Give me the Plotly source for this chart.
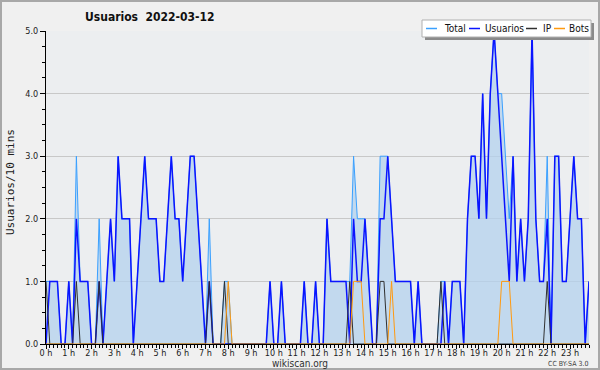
import plotly.graph_objects as go

# ---------------- data (10-minute slots, 2022-03-12) ----------------
hour_labels = ["0 h", "1 h", "2 h", "3 h", "4 h", "5 h", "6 h", "7 h", "8 h", "9 h",
               "10 h", "11 h", "12 h", "13 h", "14 h", "15 h", "16 h", "17 h", "18 h",
               "19 h", "20 h", "21 h", "22 h", "23 h"]

total = [1, 1, 1, 1, 0, 0, 1, 0, 3, 1, 1, 1,
         0, 0, 2, 0, 1, 2, 1, 3, 2, 2, 2, 0,
         1, 2, 3, 2, 2, 2, 1, 1, 2, 3, 2, 2,
         1, 2, 3, 3, 2, 1, 0, 2, 0, 0, 0, 1,
         1, 0, 0, 0, 0, 0, 0, 0, 0, 0, 0, 1,
         0, 0, 1, 0, 0, 0, 0, 0, 1, 0, 0, 1,
         0, 0, 2, 1, 1, 1, 1, 1, 1, 3, 2, 2,
         2, 1, 0, 0, 3, 3, 3, 2, 1, 1, 1, 1,
         1, 0, 1, 0, 0, 0, 0, 0, 1, 1, 0, 1,
         1, 1, 0, 2, 3, 3, 2, 4, 2, 4, 5, 4,
         4, 3, 2, 3, 1, 2, 1, 2, 5, 2, 1, 1,
         3, 0, 3, 3, 1, 1, 2, 3, 2, 2, 0, 1]

usuarios = [0, 1, 1, 1, 0, 0, 1, 0, 2, 1, 1, 1,
            0, 0, 1, 0, 1, 2, 1, 3, 2, 2, 2, 0,
            1, 2, 3, 2, 2, 2, 1, 1, 2, 3, 2, 2,
            1, 2, 3, 3, 2, 1, 0, 1, 0, 0, 0, 0,
            0, 0, 0, 0, 0, 0, 0, 0, 0, 0, 0, 1,
            0, 0, 1, 0, 0, 0, 0, 0, 1, 0, 0, 1,
            0, 0, 2, 1, 1, 1, 1, 1, 0, 2, 1, 1,
            2, 1, 0, 0, 2, 2, 3, 2, 1, 1, 1, 1,
            1, 0, 1, 0, 0, 0, 0, 0, 0, 1, 0, 1,
            1, 1, 0, 2, 3, 3, 2, 4, 2, 4, 5, 4,
            3, 2, 1, 3, 1, 2, 1, 2, 5, 2, 1, 1,
            2, 0, 3, 3, 1, 1, 2, 3, 2, 2, 0, 1]

ip = [1, 0, 0, 0, 0, 0, 0, 0, 1, 0, 0, 0,
      0, 0, 1, 0, 0, 0, 0, 0, 0, 0, 0, 0,
      0, 0, 0, 0, 0, 0, 0, 0, 0, 0, 0, 0,
      0, 0, 0, 0, 0, 0, 0, 1, 0, 0, 0, 1,
      0, 0, 0, 0, 0, 0, 0, 0, 0, 0, 0, 0,
      0, 0, 0, 0, 0, 0, 0, 0, 0, 0, 0, 0,
      0, 0, 0, 0, 0, 0, 0, 0, 1, 0, 0, 0,
      0, 0, 0, 0, 1, 1, 0, 0, 0, 0, 0, 0,
      0, 0, 0, 0, 0, 0, 0, 0, 1, 0, 0, 0,
      0, 0, 0, 0, 0, 0, 0, 0, 0, 0, 0, 0,
      0, 0, 0, 0, 0, 0, 0, 0, 0, 0, 0, 0,
      1, 0, 0, 0, 0, 0, 0, 0, 0, 0, 0, 0]

bots = [0, 0, 0, 0, 0, 0, 0, 0, 0, 0, 0, 0,
        0, 0, 0, 0, 0, 0, 0, 0, 0, 0, 0, 0,
        0, 0, 0, 0, 0, 0, 0, 0, 0, 0, 0, 0,
        0, 0, 0, 0, 0, 0, 0, 0, 0, 0, 0, 0,
        1, 0, 0, 0, 0, 0, 0, 0, 0, 0, 0, 0,
        0, 0, 0, 0, 0, 0, 0, 0, 0, 0, 0, 0,
        0, 0, 0, 0, 0, 0, 0, 0, 0, 1, 1, 1,
        0, 0, 0, 0, 0, 0, 0, 1, 0, 0, 0, 0,
        0, 0, 0, 0, 0, 0, 0, 0, 0, 0, 0, 0,
        0, 0, 0, 0, 0, 0, 0, 0, 0, 0, 0, 0,
        1, 1, 1, 0, 0, 0, 0, 0, 0, 0, 0, 0,
        0, 0, 0, 0, 0, 0, 0, 0, 0, 0, 0, 0]

series_names = ["Total", "Usuarios", "IP", "Bots"]
series_colors = ["#3aa0ff", "#0a14ff", "#303030", "#ff9a10"]

slots = list(range(len(total)))
hour_ticks = [h * 6 for h in range(len(hour_labels))]

FONT = "DejaVu Sans Condensed, Liberation Sans Narrow, DejaVu Sans, sans-serif"

# ---------------- geometry helpers (pixel -> paper) ----------------
W, H = 600, 370
L, R, T, B = 46, 11, 31, 26
PW, PH = W - L - R, H - T - B


def px(x):
    return (x - L) / PW


def py(y):
    return (H - B - y) / PH


fig = go.Figure()
fig.add_trace(go.Scatter(x=slots, y=total, mode="lines", name="Total",
                         line=dict(color=series_colors[0], width=1),
                         fill="tozeroy", fillcolor="rgba(180,210,238,0.75)",
                         showlegend=False))
fig.add_trace(go.Scatter(x=slots, y=usuarios, mode="lines", name="Usuarios",
                         line=dict(color=series_colors[1], width=1.5), showlegend=False))
fig.add_trace(go.Scatter(x=slots, y=ip, mode="lines", name="IP",
                         line=dict(color=series_colors[2], width=1), showlegend=False))
fig.add_trace(go.Scatter(x=slots, y=bots, mode="lines", name="Bots",
                         line=dict(color=series_colors[3], width=1), showlegend=False))

shapes = []
annotations = []

# outer border
shapes.append(dict(type="rect", xref="paper", yref="paper",
                   x0=px(1), x1=px(599), y0=py(369), y1=py(1),
                   line=dict(color="#a8a8a8", width=2), fillcolor="rgba(0,0,0,0)",
                   layer="below"))

# legend box with shadow
shapes.append(dict(type="rect", xref="paper", yref="paper",
                   x0=px(425), x1=px(594), y0=py(40), y1=py(23),
                   line=dict(width=0), fillcolor="#8a8a8a", layer="above"))
shapes.append(dict(type="rect", xref="paper", yref="paper",
                   x0=px(422), x1=px(591), y0=py(37), y1=py(20),
                   line=dict(color="#b0b0b0", width=1), fillcolor="#ffffff", layer="above"))
leg_line_x = [426, 469, 526, 554]
leg_text_x = [442, 483, 541, 567]
for name, col, lx, tx in zip(series_names, series_colors, leg_line_x, leg_text_x):
    shapes.append(dict(type="line", xref="paper", yref="paper",
                       x0=px(lx), x1=px(lx + 11), y0=py(28.5), y1=py(28.5),
                       line=dict(color=col, width=1.5), layer="above"))
    annotations.append(dict(xref="paper", yref="paper", x=px(tx), y=py(28.5),
                            text=name, showarrow=False, xanchor="left", yanchor="middle",
                            font=dict(family=FONT, size=10, color="#101010")))

# y-axis title
annotations.append(dict(xref="paper", yref="paper", x=px(10), y=py(182),
                        text="Usuarios/10 mins", showarrow=False, textangle=-90,
                        xanchor="center", yanchor="middle",
                        font=dict(family="DejaVu Sans Mono, monospace", size=11, color="#202020")))
# footer
annotations.append(dict(xref="paper", yref="paper", x=px(300), y=py(363.5),
                        text="wikiscan.org", showarrow=False, xanchor="center", yanchor="middle",
                        font=dict(family=FONT, size=10, color="#303030")))
annotations.append(dict(xref="paper", yref="paper", x=px(590), y=py(363.5),
                        text="CC BY-SA 3.0", showarrow=False, xanchor="right", yanchor="middle",
                        font=dict(family=FONT, size=7, color="#404040")))

fig.update_layout(
    width=W, height=H, autosize=False,
    margin=dict(l=L, r=R, t=T, b=B, pad=0, autoexpand=False),
    paper_bgcolor="#f0f0f0", plot_bgcolor="#eceef0",
    title=dict(text="<b>Usuarios  2022-03-12</b>", x=85 / W, xanchor="left",
               y=1 - 17 / H, yanchor="middle", automargin=False,
               font=dict(family=FONT, size=12, color="#101010")),
    showlegend=False,
    shapes=shapes, annotations=annotations,
)
fig.update_xaxes(
    range=[0, len(total) - 1], tickmode="array", tickvals=hour_ticks, ticktext=hour_labels,
    ticks="outside", ticklen=4, tickcolor="#000000", tickwidth=1, automargin=False,
    ticklabelstandoff=-4,
    showline=True, linecolor="#000000", linewidth=1, mirror=False,
    showgrid=False, zeroline=False,
    tickfont=dict(family=FONT, size=9, color="#202020"),
    minor=dict(tickmode="linear", tick0=0, dtick=1, ticks="outside", ticklen=3,
               tickcolor="#000000", showgrid=False),
)
fig.update_yaxes(
    range=[0, 5], tickmode="array", tickvals=[0, 1, 2, 3, 4, 5],
    ticktext=["0.0", "1.0", "2.0", "3.0", "4.0", "5.0"],
    ticks="outside", ticklen=5, tickcolor="#000000", tickwidth=1, automargin=False,
    showline=True, linecolor="#000000", linewidth=1,
    showgrid=True, gridcolor="#c8c8c8", gridwidth=1, zeroline=False,
    tickfont=dict(family=FONT, size=9, color="#202020"),
    minor=dict(tickmode="linear", tick0=0, dtick=0.25, ticks="outside", ticklen=3,
               tickcolor="#000000", showgrid=False),
)

fig.write_html("out.html", config={"displayModeBar": False, "staticPlot": True},
               post_script="document.body.style.margin='0';document.body.style.overflow='hidden';")
